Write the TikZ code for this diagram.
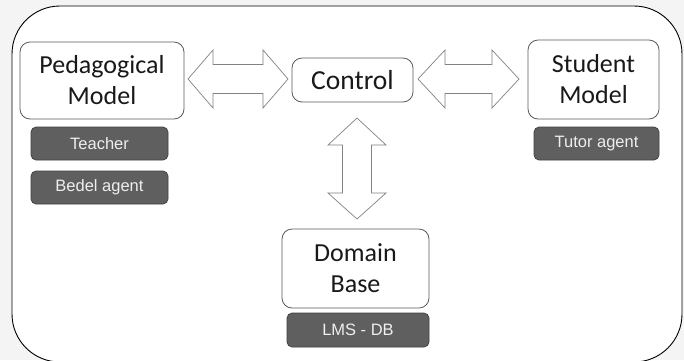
\documentclass[tikz,border=0pt]{standalone}
\usepackage{fontspec}
\setmainfont{Carlito}
\newfontfamily\arialf{Liberation Sans}
\definecolor{bggray}{RGB}{244,244,244}
\definecolor{boxline}{RGB}{90,90,90}
\definecolor{darkfill}{RGB}{95,95,95}
\definecolor{arrline}{RGB}{130,130,130}
\definecolor{lighttext}{RGB}{238,238,238}
\tikzset{
  model/.style={draw=boxline, line width=0.8pt, fill=white, rounded corners=10pt, inner sep=0pt, align=center,
    font=\fontsize{26}{31}\selectfont, text=black!90},
  agent/.style={draw=black!75, line width=0.7pt, fill=darkfill, rounded corners=5pt, inner sep=0pt, align=center,
    font=\arialf\fontsize{16.5}{19}\selectfont, text=lighttext, minimum height=33pt},
  blockarrow/.style={draw=arrline, line width=0.7pt, fill=white, line join=miter},
  frame/.style={draw=black, line width=0.9pt, fill=white, rounded corners=48pt}
}
\begin{document}
\begin{tikzpicture}[x=1pt,y=-1pt]
\useasboundingbox (0,0) rectangle (684,360);
\fill[bggray] (0,0) rectangle (684,360);
\draw[frame] (12,6) rectangle (682,362);

% white model boxes
\node[model, minimum width=164pt, minimum height=77pt] (ped) at (102,80.5) {Pedagogical\\Model};
\node[model, minimum width=121pt, minimum height=44pt, font=\fontsize{27.5}{31}\selectfont] (ctrl) at (352.5,80) {Control};
\node[model, minimum width=131pt, minimum height=79pt] (stud) at (593.5,79.5) {Student\\Model};
\node[model, minimum width=147pt, minimum height=79pt] (dom) at (355.5,268.5) {Domain\\Base};

% dark agent boxes
\node[agent, minimum width=137pt] (teach) at (99.5,143.5) {Teacher};
\node[agent, minimum width=137pt] (bedel) at (99.5,187.5) {Bedel agent};
\node[agent, minimum width=125pt] (tutor) at (596.5,143.5) {Tutor agent};
\node[agent, minimum width=142pt, minimum height=34pt] (lms) at (358,330) {LMS - DB};

% block arrows
\draw[blockarrow] (188,79) -- (213,50) -- (213,64.5) -- (263,64.5) -- (263,50) -- (288,79)
  -- (263,108) -- (263,93.5) -- (213,93.5) -- (213,108) -- cycle;
\draw[blockarrow] (418,79) -- (445,50) -- (445,64.5) -- (492,64.5) -- (492,50) -- (519,79)
  -- (492,108) -- (492,93.5) -- (445,93.5) -- (445,108) -- cycle;
\draw[blockarrow] (357,118) -- (386,145) -- (371.5,145) -- (371.5,193) -- (386,193) -- (357,219)
  -- (328,193) -- (342.5,193) -- (342.5,145) -- (328,145) -- cycle;
\end{tikzpicture}
\end{document}
